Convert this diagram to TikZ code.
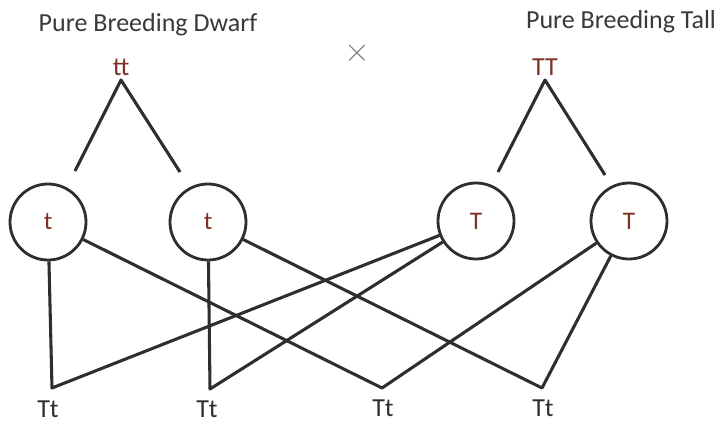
\documentclass[tikz,border=0pt]{standalone}
\usepackage{fontspec}
\setmainfont{Carlito}
\definecolor{ink}{HTML}{2E2E2E}
\definecolor{head}{HTML}{3C3838}
\definecolor{allele}{HTML}{7E3222}
\definecolor{crossc}{HTML}{808080}
\begin{document}
\begin{tikzpicture}[x=0.75pt,y=-0.75pt,
  gamete/.style={circle,draw=ink,line width=2.1pt,minimum size=57pt,inner sep=0pt,
    text=allele,font=\fontsize{19}{19}\selectfont},
  heading/.style={text=head,font=\fontsize{19.5}{20}\selectfont,inner sep=0pt},
  parent/.style={text=allele,font=\fontsize{19.5}{20}\selectfont,anchor=south,inner sep=3pt},
  child/.style={text=ink,font=\fontsize{19.5}{20}\selectfont,inner sep=0pt},
  link/.style={draw=ink,line width=2.3pt,line join=round}]
\useasboundingbox (0,0) rectangle (721,422);
\fill[white] (0,0) rectangle (721,422);
% headings
\node[heading] (hd) at (148,25) {Pure Breeding Dwarf};
\node[heading] (ht) at (621,22) {Pure Breeding Tall};
\node[text=crossc,inner sep=0pt,font=\fontsize{26}{26}\selectfont] (cross) at (357,53) {$\times$};
% parents
\node[parent] (tt) at (121,80) {tt};
\node[parent] (TT) at (545,80) {TT};
\coordinate (ttL) at (75,171);
\coordinate (ttR) at (180,172);
\coordinate (TTL) at (498,172);
\coordinate (TTR) at (605,175);
\draw[link] (ttL) -- (tt.south) -- (ttR);
\draw[link] (TTL) -- (TT.south) -- (TTR);
% gametes
\node[gamete] (g1) at (48,222) {t};
\node[gamete] (g2) at (208,222) {t};
\node[gamete] (g3) at (476,221) {T};
\node[gamete] (g4) at (629,221) {T};
% offspring vertices
\coordinate (v1) at (52,388);
\coordinate (v2) at (210,389);
\coordinate (v3) at (382,388);
\coordinate (v4) at (542,388);
\draw[link] (g1) -- (v1) -- (g3);
\draw[link] (g2) -- (v2) -- (g3);
\draw[link] (g1) -- (v3) -- (g4);
\draw[link] (g2) -- (v4) -- (g4);
% offspring labels
\node[child] (o1) at (48,409) {Tt};
\node[child] (o2) at (207,409) {Tt};
\node[child] (o3) at (383,408) {Tt};
\node[child] (o4) at (543,408) {Tt};
\end{tikzpicture}
\end{document}
